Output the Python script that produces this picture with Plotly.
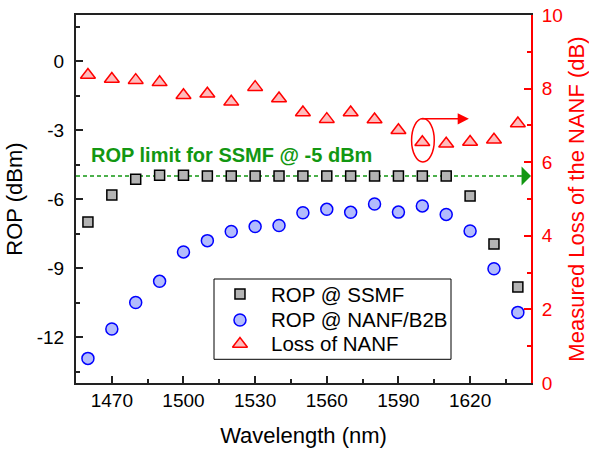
import plotly.graph_objects as go

wavelength = [1460, 1470, 1480, 1490, 1500, 1510, 1520, 1530, 1540, 1550,
              1560, 1570, 1580, 1590, 1600, 1610, 1620, 1630, 1640]
rop_ssmf = [-7.0, -5.83, -5.14, -4.97, -4.97, -5.0, -5.0, -5.0, -5.0, -5.0,
            -5.0, -5.0, -5.0, -5.0, -5.0, -5.0, -5.87, -7.96, -9.83]
rop_nanf = [-12.93, -11.65, -10.5, -9.58, -8.3, -7.81, -7.41, -7.2, -7.15, -6.6,
            -6.45, -6.58, -6.22, -6.57, -6.3, -6.67, -7.39, -9.03, -10.93]
loss_nanf = [8.37, 8.26, 8.23, 8.17, 7.82, 7.86, 7.64, 8.04, 7.73, 7.35,
             7.17, 7.35, 7.16, 6.87, 6.54, 6.5, 6.55, 6.61, 7.05]
series_names = ["ROP @ SSMF", "ROP @ NANF/B2B", "Loss of NANF"]
rop_limit = -5
highlight_wl = 1600

x_ticks = [1470, 1500, 1530, 1560, 1590, 1620]
y_ticks = [-12, -9, -6, -3, 0]
y_ticktext = ["-12", "-9", "-6", "-3", "0"]
y2_ticks = [0, 2, 4, 6, 8, 10]

FONT = "Liberation Sans, Arial, sans-serif"
GREEN = "#129712"
RED = "#ff0000"

x_lo, x_hi = 1455, 1645.5
y_lo, y_hi = -14, 2

m_sq = dict(symbol="square", size=10, color="#b4b4b4", line=dict(color="black", width=1.5))
m_ci = dict(symbol="circle", size=12, color="#b3bcfc", line=dict(color="#0000ff", width=1.5))
m_tr = dict(symbol="triangle-up", size=13, color="#ffbcbc", line=dict(color=RED, width=1.5))

fig = go.Figure()

# ROP limit dashed line (drawn beneath markers)
fig.add_trace(go.Scatter(
    x=[x_lo, x_hi - 4], y=[rop_limit, rop_limit], mode="lines", showlegend=False,
    line=dict(color=GREEN, width=1.5, dash="4px,3px"), hoverinfo="skip"))
fig.add_annotation(x=x_hi, y=rop_limit, ax=-12, ay=0, text="", showarrow=True,
                   arrowhead=1, arrowsize=2.1, arrowwidth=1.5, arrowcolor=GREEN,
                   standoff=0)

fig.add_trace(go.Scatter(x=wavelength, y=rop_ssmf, mode="markers",
                         name=series_names[0], marker=m_sq, showlegend=False))
fig.add_trace(go.Scatter(x=wavelength, y=rop_nanf, mode="markers",
                         name=series_names[1], marker=m_ci, showlegend=False))
fig.add_trace(go.Scatter(x=wavelength, y=loss_nanf, mode="markers", yaxis="y2",
                         name=series_names[2], marker=m_tr, showlegend=False))

fig.add_annotation(x=1460.5, y=rop_limit, yshift=21, xanchor="left", yanchor="middle",
                   text="<b>ROP limit for SSMF @ -5 dBm</b>", showarrow=False,
                   font=dict(family=FONT, size=20, color=GREEN))

# highlight ellipse and arrow on the loss series
i = wavelength.index(highlight_wl)
hx, hy = wavelength[i], loss_nanf[i]
fig.add_shape(type="circle", xref="x", yref="y2",
              x0=hx - 4.5, x1=hx + 5.0, y0=hy - 0.535, y1=hy + 0.65,
              line=dict(color=RED, width=1.5))
fig.add_annotation(xref="x", yref="y2", axref="x", ayref="y2",
                   x=hx + 19.5, y=hy + 0.64, ax=hx - 1, ay=hy + 0.64,
                   showarrow=True, arrowhead=2, arrowsize=1.4, arrowwidth=1.6,
                   arrowcolor=RED, text="", standoff=0)

# legend box (drawn manually)
lg_x0, lg_x1, lg_y0, lg_y1 = 0.3033, 0.8242, 0.0644, 0.2826
lg_sym_x, lg_txt_x = 0.3604, 0.4242
lg_rows = [0.2418, 0.1712, 0.1060]
fig.add_shape(type="rect", xref="paper", yref="paper", x0=lg_x0, x1=lg_x1,
              y0=lg_y0, y1=lg_y1, line=dict(color="black", width=1),
              fillcolor="white", layer="below")
for name, mk, fy in zip(series_names, [m_sq, m_ci, m_tr], lg_rows):
    fig.add_trace(go.Scatter(x=[x_lo + lg_sym_x * (x_hi - x_lo)],
                             y=[y_lo + fy * (y_hi - y_lo)], mode="markers",
                             marker=mk, showlegend=False, hoverinfo="skip"))
    fig.add_annotation(xref="paper", yref="paper", x=lg_txt_x, y=fy,
                       xanchor="left", yanchor="middle", text=name, showarrow=False,
                       font=dict(family=FONT, size=20.5, color="black"))

fig.update_layout(
    width=589, height=451,
    margin=dict(l=76, r=58, t=15, b=68),
    paper_bgcolor="white", plot_bgcolor="white",
    font=dict(family=FONT, size=19, color="black"),
    showlegend=False,
    xaxis=dict(range=[x_lo, x_hi], tickvals=x_ticks, ticks="inside", ticklen=7,
               tickwidth=1.5, showline=True, linecolor="#222", linewidth=2,
               mirror=True, showgrid=False, zeroline=False, automargin=False,
               ticklabelstandoff=-1,
               minor=dict(dtick=15, tick0=1455, ticks="inside", ticklen=4,
                          tickwidth=1.5, tickcolor="#222"),
               tickcolor="#222", tickfont=dict(size=19),
               title=dict(text="Wavelength (nm)", font=dict(size=22), standoff=18)),
    yaxis=dict(range=[y_lo, y_hi], tickvals=y_ticks, ticktext=y_ticktext,
               ticks="inside", ticklen=7, tickwidth=1.5, showline=True,
               linecolor="#222", linewidth=2, showgrid=False, zeroline=False,
               automargin=False, ticklabelstandoff=6,
               minor=dict(dtick=1.5, tick0=0, ticks="inside", ticklen=4,
                          tickwidth=1.5, tickcolor="#222"),
               tickcolor="#222", tickfont=dict(size=19),
               title=dict(text="ROP (dBm)", font=dict(size=22), standoff=8)),
    yaxis2=dict(range=[0, 10], tickvals=y2_ticks, overlaying="y", side="right",
                ticks="inside", ticklen=7, tickwidth=1.5, showline=True,
                linecolor=RED, linewidth=2, showgrid=False, zeroline=False,
                automargin=False, ticklabelstandoff=5,
                minor=dict(dtick=1, tick0=0, ticks="inside", ticklen=4,
                           tickwidth=1.5, tickcolor=RED),
                tickcolor=RED, tickfont=dict(size=19, color=RED),
                title=dict(text="Measured Loss of the NANF (dB)",
                           font=dict(size=22, color=RED), standoff=8)),
)

fig.write_html("out.html")
